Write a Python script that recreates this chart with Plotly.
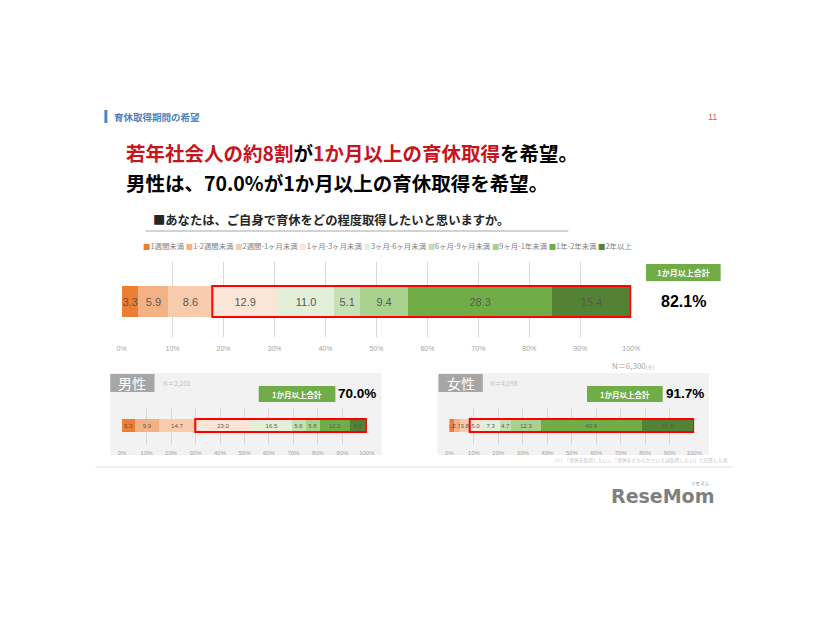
import plotly.graph_objects as go

# ---------------- data ----------------
categories = ["1週間未満", "1-2週間未満", "2週間-1ヶ月未満", "1ヶ月-3ヶ月未満", "3ヶ月-6ヶ月未満",
              "6ヶ月-9ヶ月未満", "9ヶ月-1年未満", "1年-2年未満", "2年以上"]
colors = ["#ED7D31", "#F4B183", "#F8CBAD", "#FBE5D6", "#E2F0D9",
          "#C5E0B4", "#A9D18E", "#70AD47", "#548235"]
overall = [3.3, 5.9, 8.6, 12.9, 11.0, 5.1, 9.4, 28.3, 15.4]
male = [5.3, 9.9, 14.7, 23.0, 16.5, 5.6, 5.8, 12.3, 6.8]
female = [1.8, 2.7, 3.8, 5.0, 7.3, 4.7, 12.3, 40.9, 21.5]
n_overall = "6,300"
n_male = "2,202"
n_female = "4,098"
tick_vals = [0, 10, 20, 30, 40, 50, 60, 70, 80, 90, 100]
tick_text = [f"{v}%" for v in tick_vals]

# page body has an 8px margin: size the figure to fit and map page pixels
OFF = 8
W, H = 826 - OFF, 620 - OFF
def X(px): return (px - OFF) / W
def Y(py): return 1 - (py - OFF) / H

fig = go.Figure()

panels = [
    (overall, "x", "y", 0.62, 11),
    (male, "x2", "y2", 0.52, 6),
    (female, "x3", "y3", 0.52, 6),
]
for vals, xa, ya, bw, fs in panels:
    for cat, col, v in zip(categories, colors, vals):
        fig.add_trace(go.Bar(
            x=[v], y=[0], orientation="h", name=cat,
            marker=dict(color=col, line=dict(width=0)),
            width=bw, text=[f"{v:.1f}"], textposition="inside",
            insidetextanchor="middle", textangle=0, constraintext="none",
            textfont=dict(size=fs, color="#595959", family="Liberation Sans"),
            xaxis=xa, yaxis=ya, hoverinfo="skip", showlegend=False))

def xaxis_cfg(d0, d1, anchor, fs, tl):
    return dict(domain=[X(d0), X(d1)], range=[0, 100], anchor=anchor,
                tickmode="array", tickvals=tick_vals, ticktext=tick_text, showgrid=True,
                gridcolor="#D9D9D9", gridwidth=1, zeroline=False, showline=False,
                ticks="outside", ticklen=tl, tickcolor="rgba(0,0,0,0)",
                tickfont=dict(size=fs, color="#A6A6A6", family="Liberation Sans"),
                fixedrange=True)

fig.update_layout(
    width=W, height=H, autosize=False,
    margin=dict(l=0, r=0, t=0, b=0, pad=0),
    paper_bgcolor="white", plot_bgcolor="rgba(0,0,0,0)",
    barmode="stack", showlegend=False,
    font=dict(family="Noto Sans CJK JP"),
    xaxis=xaxis_cfg(118.5, 637, "y", 7, 5),
    yaxis=dict(domain=[Y(337), Y(262)], range=[-0.71, 0.79], visible=False, fixedrange=True),
    xaxis2=xaxis_cfg(119, 368, "y2", 6, 2),
    yaxis2=dict(domain=[Y(445), Y(408)], range=[-0.78, 0.70], visible=False, fixedrange=True),
    xaxis3=xaxis_cfg(452, 701, "y3", 6, 2),
    yaxis3=dict(domain=[Y(445), Y(408)], range=[-0.78, 0.70], visible=False, fixedrange=True),
)

shapes = []
# panel backgrounds
for x0, x1 in [(107, 383), (440, 716)]:
    shapes.append(dict(type="rect", xref="paper", yref="paper", x0=X(x0), x1=X(x1),
                       y0=Y(455), y1=Y(373), fillcolor="#F2F2F2", line=dict(width=0), layer="below"))
# gender label boxes
for x0, x1 in [(107, 152), (441, 486)]:
    shapes.append(dict(type="rect", xref="paper", yref="paper", x0=X(x0), x1=X(x1),
                       y0=Y(392), y1=Y(374), fillcolor="#A6A6A6", line=dict(width=0), layer="below"))
# green "1か月以上合計" boxes
for x0, x1, y0, y1 in [(652, 728, 264, 281), (258, 336, 386, 402), (592, 669, 386, 402)]:
    shapes.append(dict(type="rect", xref="paper", yref="paper", x0=X(x0), x1=X(x1),
                       y0=Y(y1), y1=Y(y0), fillcolor="#70AD47", line=dict(width=0), layer="above"))
# header blue bar
shapes.append(dict(type="rect", xref="paper", yref="paper", x0=X(101), x1=X(104),
                   y0=Y(123), y1=Y(110), fillcolor="#4F81BD", line=dict(width=0)))
# underline for question
shapes.append(dict(type="line", xref="paper", yref="paper", x0=X(143), x1=X(573),
                   y0=Y(231), y1=Y(231), line=dict(color="#A6A6A6", width=1)))
# faint separator
shapes.append(dict(type="line", xref="paper", yref="paper", x0=X(92), x1=X(740),
                   y0=Y(467), y1=Y(467), line=dict(color="#F0F0F0", width=2)))
# red outline rectangles (>= 1 month)
for vals, xa, ya, bw in [(overall, "x", "y", 0.62), (male, "x2", "y2", 0.52), (female, "x3", "y3", 0.52)]:
    shapes.append(dict(type="rect", xref=xa, yref=ya, x0=sum(vals[:3]), x1=sum(vals),
                       y0=-bw / 2, y1=bw / 2, line=dict(color="#FF0000", width=2),
                       fillcolor="rgba(0,0,0,0)", layer="above"))
fig.update_layout(shapes=shapes)

ann = []
def A(text, x, y, size, color="#000000", xanchor="left", family="Noto Sans CJK JP", yanchor="middle"):
    ann.append(dict(text=text, x=X(x), y=Y(y), xref="paper", yref="paper",
                    xanchor=xanchor, yanchor=yanchor, showarrow=False,
                    font=dict(size=size, color=color, family=family)))

A("<b>育休取得期間の希望</b>", 109, 117, 9.5, "#4F81BD")
A("11", 720, 117, 9, "#E05A6A", xanchor="center", family="Liberation Sans")
red = "#C8141E"
A(f"<b><span style='color:{red}'>若年社会人の約8割</span>が<span style='color:{red}'>1か月以上の育休取得</span>を希望。</b>",
  121, 152, 19.5)
A("<b>男性は、70.0%が1か月以上の育休取得を希望。</b>", 121, 182, 19.5)
A("<b>■あなたは、ご自身で育休をどの程度取得したいと思いますか。</b>", 148, 220, 12.3, "#262626")

legend_text = " ".join(f"<span style='color:{c}'>■</span>{cat}" for cat, c in zip(categories, colors))
A(legend_text, 138, 246, 7.4, "#808080")

def total_pct(vals):
    return f"{sum(vals[3:]):.1f}%"

A("<b>1か月以上合計</b>", 690, 272.5, 8, "white", xanchor="center")
A(f"<b>{total_pct(overall)}</b>", 690, 301, 16, "#000000", xanchor="center", family="Liberation Sans")
A(f"N＝{n_overall}<span style='font-size:5px'>(※)</span>", 615, 365, 8, "#A6A6A6")

A("<b>1か月以上合計</b>", 297, 394, 7.5, "white", xanchor="center")
A(f"<b>{total_pct(male)}</b>", 358, 393, 13.5, "#000000", xanchor="center", family="Liberation Sans")
A("男性", 129.5, 383, 14, "white", xanchor="center")
A(f"N＝{n_male}", 159, 383, 6.5, "#BFBFBF")

A("<b>1か月以上合計</b>", 630.5, 394, 7.5, "white", xanchor="center")
A(f"<b>{total_pct(female)}</b>", 692, 393, 13.5, "#000000", xanchor="center", family="Liberation Sans")
A("女性", 463.5, 383, 14, "white", xanchor="center")
A(f"N＝{n_female}", 491, 383, 6.5, "#BFBFBF")

A("(※)　「育休を取得したい」、「育休をどちらかといえば取得したい」と回答した者", 556, 460, 4.8, "#BFBFBF")

A("<b>ReseMom</b>", 669, 496, 19, "#7F7F7F", xanchor="center", family="DejaVu Sans")
A("リセマム", 707, 483, 4.5, "#7F7F7F", xanchor="center")

fig.update_layout(annotations=ann)
fig.write_html("out.html")
